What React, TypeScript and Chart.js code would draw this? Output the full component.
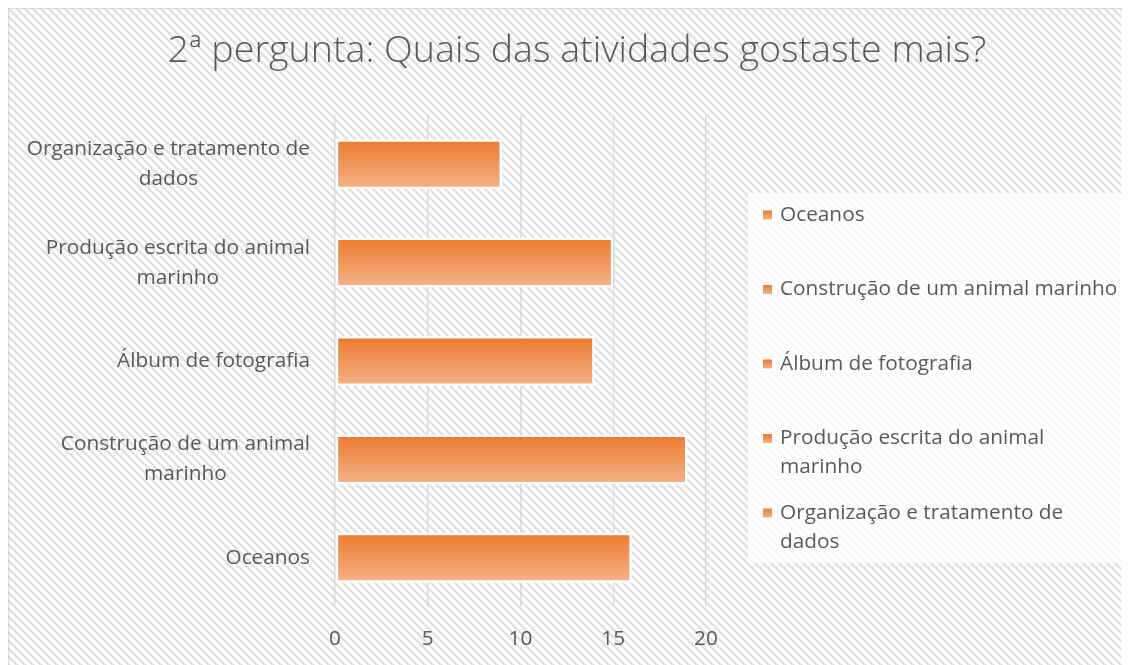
import React, { useEffect, useRef } from "react";
import { Chart, registerables } from "chart.js";

Chart.register(...registerables);

// ---- data ----
const TITLE = "2ª pergunta: Quais das atividades gostaste mais?";
const categories = [
  "Oceanos",
  "Construção de um animal marinho",
  "Álbum de fotografia",
  "Produção escrita do animal marinho",
  "Organização e tratamento de dados",
];
const values = [16, 19, 14, 15, 9];
const axisLabelLines = [
  ["Oceanos"],
  ["Construção de um animal", "marinho"],
  ["Álbum de fotografia"],
  ["Produção escrita do animal", "marinho"],
  ["Organização e tratamento de", "dados"],
];
const legendLabelLines = [
  ["Oceanos"],
  ["Construção de um animal marinho"],
  ["Álbum de fotografia"],
  ["Produção escrita do animal", "marinho"],
  ["Organização e tratamento de", "dados"],
];
const xMin = 0;
const xMax = 20;
const xStep = 5;

// ---- styles ----
const FONT = "'Open Sans', 'DejaVu Sans', sans-serif";
const TEXT = "#595959";
const ORANGE_TOP = "#ED7D31";
const ORANGE_MID = "#F09358";
const ORANGE_BOTTOM = "#F4B183";
const LABEL_SIZE = 20.8;
const TITLE_SIZE = 37.6;
const BAR_FRACTION = 0.508;
const CANVAS_W = 1121;
const CANVAS_H = 656;

function makeGradient(ctx: CanvasRenderingContext2D, y0: number, y1: number) {
  const g = ctx.createLinearGradient(0, y0, 0, y1);
  g.addColorStop(0, ORANGE_TOP);
  g.addColorStop(0.45, ORANGE_MID);
  g.addColorStop(1, ORANGE_BOTTOM);
  return g;
}

const backgroundPlugin = {
  id: "hatchBackground",
  beforeDraw(chart: any) {
    const { ctx, width, height } = chart;
    const tile = document.createElement("canvas");
    tile.width = 8;
    tile.height = 8;
    const t = tile.getContext("2d")!;
    t.fillStyle = "#ffffff";
    t.fillRect(0, 0, 8, 8);
    t.strokeStyle = "#e2e2e2";
    t.lineWidth = 2.5;
    for (const c of [-8, 0, 8]) {
      t.beginPath();
      t.moveTo(-2, -2 + c);
      t.lineTo(10, 10 + c);
      t.stroke();
    }
    const pattern = ctx.createPattern(tile, "repeat");
    ctx.save();
    ctx.fillStyle = pattern;
    ctx.fillRect(0, 0, width, height);
    // title
    ctx.font = `300 ${TITLE_SIZE}px ${FONT}`;
    ctx.fillStyle = TEXT;
    ctx.textAlign = "center";
    ctx.textBaseline = "middle";
    ctx.fillText(TITLE, 568, 42);
    ctx.restore();
  },
};

const axisLabelPlugin = {
  id: "axisLabels",
  afterDraw(chart: any) {
    const { ctx, chartArea } = chart;
    const yScale = chart.scales.y;
    ctx.save();
    ctx.font = `${LABEL_SIZE}px ${FONT}`;
    ctx.fillStyle = TEXT;
    ctx.textAlign = "center";
    ctx.textBaseline = "middle";
    const right = chartArea.left - 25;
    const lh = 30;
    axisLabelLines.forEach((lines, i) => {
      const cy = yScale.getPixelForValue(i);
      const w = Math.max(...lines.map((l) => ctx.measureText(l).width));
      const cx = right - w / 2;
      lines.forEach((line, j) => {
        ctx.fillText(line, cx, cy + (j - (lines.length - 1) / 2) * lh);
      });
    });
    ctx.restore();
  },
};

const legendPlugin = {
  id: "sideLegend",
  afterDraw(chart: any) {
    const { ctx } = chart;
    const boxX = 739;
    const boxY = 184;
    ctx.save();
    ctx.fillStyle = "rgba(255,255,255,0.82)";
    ctx.fillRect(boxX, boxY, chart.width - boxX, 370);
    ctx.font = `${LABEL_SIZE}px ${FONT}`;
    ctx.textAlign = "left";
    ctx.textBaseline = "middle";
    const firstY = 206;
    const step = 74.5;
    const lh = 29;
    legendLabelLines.forEach((lines, i) => {
      const y = firstY + i * step;
      ctx.fillStyle = makeGradient(ctx, y - 4.5, y + 4.5);
      ctx.fillRect(754, y - 4.5, 9, 9);
      ctx.fillStyle = TEXT;
      lines.forEach((line, j) => ctx.fillText(line, 771, y + j * lh));
    });
    ctx.restore();
  },
};

export default function App() {
  const ref = useRef<HTMLCanvasElement | null>(null);
  useEffect(() => {
    if (!ref.current) return;
    const chart = new Chart(ref.current, {
      type: "bar",
      data: {
        labels: categories,
        datasets: [
          {
            label: "Respostas",
            data: values,
            backgroundColor: (c: any) => {
              const ch = c.chart;
              const y = ch.scales && ch.scales.y;
              if (!y || c.dataIndex === undefined || !ch.chartArea) return ORANGE_TOP;
              const center = y.getPixelForValue(c.dataIndex);
              const band = Math.abs(y.getPixelForValue(1) - y.getPixelForValue(0));
              const half = (band * BAR_FRACTION) / 2;
              return makeGradient(ch.ctx, center - half + 2.5, center + half - 2.5);
            },
            borderColor: "#ffffff",
            borderWidth: 2.5,
            borderSkipped: false,
            barPercentage: BAR_FRACTION / 0.8,
            categoryPercentage: 0.8,
          },
        ],
      },
      options: {
        indexAxis: "y",
        responsive: false,
        animation: false,
        devicePixelRatio: 1,
        layout: { padding: { left: 0, right: CANVAS_W - 697, top: 106, bottom: 0 } },
        plugins: {
          legend: { display: false },
          tooltip: { enabled: false },
          title: { display: false },
        },
        scales: {
          x: {
            type: "linear",
            min: xMin,
            max: xMax,
            ticks: {
              stepSize: xStep,
              color: TEXT,
              font: { family: FONT, size: LABEL_SIZE },
              padding: 20,
            },
            grid: { color: "#d9d9d9", lineWidth: 1.5, drawTicks: false },
            border: { display: false },
            afterFit: (s: any) => {
              s.height = 58;
            },
          },
          y: {
            type: "category",
            reverse: true,
            ticks: { display: false },
            grid: { display: false },
            border: { display: false },
            afterFit: (s: any) => {
              s.width = 326;
            },
          },
        },
      },
      plugins: [backgroundPlugin, axisLabelPlugin, legendPlugin],
    });
    return () => chart.destroy();
  }, []);

  return (
    <div
      style={{
        width: CANVAS_W,
        height: CANVAS_H,
        borderLeft: "1px solid #d9d9d9",
        borderTop: "1px solid #d9d9d9",
      }}
    >
      <canvas ref={ref} width={CANVAS_W} height={CANVAS_H} style={{ display: "block" }} />
    </div>
  );
}
